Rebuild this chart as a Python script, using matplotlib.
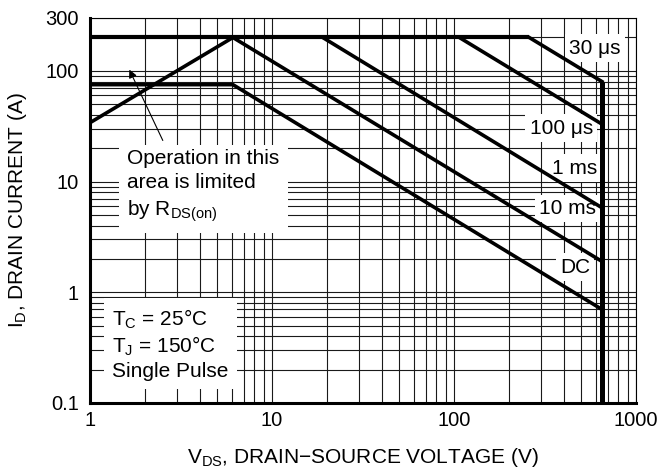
import matplotlib
matplotlib.use("Agg")
import matplotlib.pyplot as plt
from matplotlib.ticker import NullFormatter, LogLocator

plt.rcParams['font.family'] = ['Liberation Sans', 'DejaVu Sans']
plt.rcParams['mathtext.fontset'] = 'custom'
plt.rcParams['mathtext.rm'] = 'Liberation Sans'
plt.rcParams['mathtext.it'] = 'Liberation Sans:italic'
plt.rcParams['mathtext.bf'] = 'Liberation Sans:bold'

# curve corner points (V, A)
top_v = [1, 259]
top_i = [200, 200]
rds_v = [1, 6.1]
rds_i = [34, 200]
us30_v = [259, 650]
us30_i = [200, 80]
us100_v = [107, 650]
us100_i = [200, 33]
ms1_v = [19, 650]
ms1_i = [200, 5.8]
ms10_v = [6.1, 650]
ms10_i = [200, 1.9]
dc_v = [1, 6.1, 650]
dc_i = [75, 75, 0.7]
bv_v = [650, 650]
bv_i = [0.1, 80]

x_ticks = [1, 10, 100, 1000]
x_labels = ["1", "10", "100", "1000"]
y_ticks = [0.1, 1, 10, 100, 300]
y_labels = ["0.1", "1", "10", "100", "300"]

fig = plt.figure(figsize=(6.66, 4.72), dpi=100)
ax = fig.add_axes([90 / 666, 69 / 472, 546 / 666, 385 / 472])
ax.set_xscale('log')
ax.set_yscale('log')
ax.set_xlim(1, 1000)
ax.set_ylim(0.1, 300)

# grid on every decade and sub-decade
ax.xaxis.set_minor_locator(LogLocator(base=10, subs=range(2, 10)))
ax.yaxis.set_minor_locator(LogLocator(base=10, subs=range(2, 10)))
ax.xaxis.set_minor_formatter(NullFormatter())
ax.yaxis.set_minor_formatter(NullFormatter())
ax.grid(True, which='both', color='#1a1a1a', linewidth=0.8, zorder=0)
ax.set_axisbelow(True)

ax.set_xticks(x_ticks)
ax.set_xticklabels(x_labels)
ax.set_yticks(y_ticks)
ax.set_yticklabels(y_labels)
ax.tick_params(which='both', length=0, labelsize=14.5)
ax.tick_params(axis='x', pad=6)
ax.tick_params(axis='y', pad=8)

for side in ['left', 'bottom']:
    ax.spines[side].set_linewidth(2.2)
for side in ['top', 'right']:
    ax.spines[side].set_linewidth(0.8)

lc = 'black'
ax.plot(top_v, top_i, color=lc, lw=3.0, zorder=4, solid_capstyle='butt')
ax.plot(rds_v, rds_i, color=lc, lw=2.6, zorder=4)
ax.plot(us30_v, us30_i, color=lc, lw=2.6, zorder=4)
ax.plot(us100_v, us100_i, color=lc, lw=2.6, zorder=4)
ax.plot(ms1_v, ms1_i, color=lc, lw=2.6, zorder=4)
ax.plot(ms10_v, ms10_i, color=lc, lw=2.6, zorder=4)
ax.plot(dc_v, dc_i, color=lc, lw=2.6, zorder=4)
ax.plot(bv_v, bv_i, color=lc, lw=3.6, zorder=4, solid_capstyle='butt')

box = dict(facecolor='white', edgecolor='none', pad=3)
lab_kw = dict(transform=ax.transAxes, fontsize=15, ha='center', va='center', zorder=3, bbox=box)
ax.text(0.925, 0.922, "30 μs", **lab_kw)
ax.text(0.863, 0.714, "100 μs", **lab_kw)
ax.text(0.888, 0.610, "1 ms", **lab_kw)
ax.text(0.874, 0.506, "10 ms", **lab_kw)
ax.text(0.888, 0.353, "DC", **lab_kw)

ax.text(0.068, 0.562, "Operation in this\narea is limited\nby R$_{\\mathrm{DS(on)}}$",
        transform=ax.transAxes, fontsize=15, ha='left', va='center', linespacing=1.38,
        zorder=3, bbox=dict(facecolor='white', edgecolor='none', pad=6))
ax.annotate("", xy=(1.62, 108), xytext=(2.55, 22.3),
            arrowprops=dict(arrowstyle='-|>', color='black', lw=0.8, mutation_scale=12),
            zorder=5)

ax.text(0.040, 0.153, "T$_{\\mathrm{C}}$ = 25°C\nT$_{\\mathrm{J}}$ = 150°C\nSingle Pulse",
        transform=ax.transAxes, fontsize=15, ha='left', va='center', linespacing=1.22,
        zorder=3, bbox=dict(facecolor='white', edgecolor='none', pad=6))

ax.set_xlabel("V$_{\\mathrm{DS}}$, DRAIN\u2212SOURCE VOLTAGE (V)", fontsize=15, labelpad=11)
ax.set_ylabel("I$_{\\mathrm{D}}$, DRAIN CURRENT (A)", fontsize=15, labelpad=12)

fig.savefig("out.png", dpi=100)
